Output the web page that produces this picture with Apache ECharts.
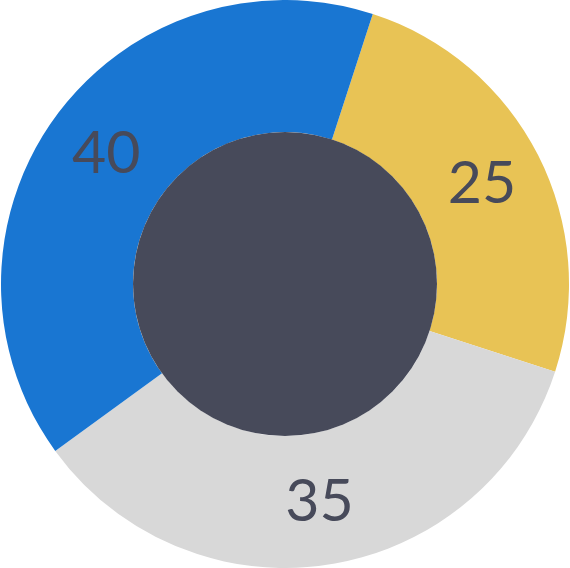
<!DOCTYPE html>
<html>
<head>
<meta charset="utf-8">
<script src="https://cdn.jsdelivr.net/npm/echarts@6/dist/echarts.min.js"></script>
<style>
  html, body { margin: 0; padding: 0; background: #ffffff; }
  #chart { width: 570px; height: 568px; }
</style>
</head>
<body>
<div id="chart"></div>
<script>
const categories = ['A', 'B', 'C'];
const values = [25, 35, 40];
const colors = ['#E8C355', '#D8D8D8', '#1976D2'];

const chart = echarts.init(document.getElementById('chart'), null, { renderer: 'canvas' });
chart.setOption({
  backgroundColor: '#ffffff',
  animation: false,
  series: [
    {
      type: 'pie',
      center: ['50%', '50%'],
      radius: [152, 284],
      startAngle: 72,
      clockwise: true,
      silent: true,
      avoidLabelOverlap: false,
      label: {
        show: true,
        position: 'inside',
        formatter: '{c}',
        color: '#474A5A',
        fontFamily: 'Lato',
        fontSize: 59,
        fontWeight: 'normal'
      },
      labelLine: { show: false },
      itemStyle: { borderWidth: 0 },
      data: categories.map((c, i) => ({ name: c, value: values[i], itemStyle: { color: colors[i] } }))
    },
    {
      type: 'pie',
      center: ['50%', '50%'],
      radius: [0, 152],
      silent: true,
      label: { show: false },
      labelLine: { show: false },
      data: [{ value: 1, itemStyle: { color: '#474A5A' } }]
    }
  ]
});
</script>
</body>
</html>
